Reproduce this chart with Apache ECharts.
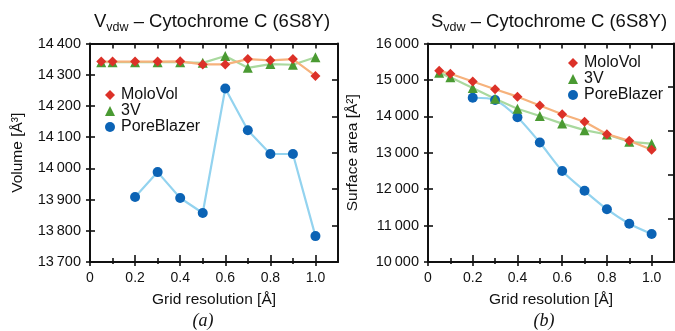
<!DOCTYPE html>
<html>
<head>
<meta charset="utf-8">
<script src="https://cdn.jsdelivr.net/npm/echarts@6/dist/echarts.min.js"></script>
<style>
  html, body { margin: 0; padding: 0; background: #fff; }
  #chart { width: 675px; height: 331px; }
</style>
</head>
<body>
<div id="chart"></div>
<script>
// grid resolution values (Å)
const xAll = [0.05, 0.1, 0.2, 0.3, 0.4, 0.5, 0.6, 0.7, 0.8, 0.9, 1.0];
const xPore = [0.2, 0.3, 0.4, 0.5, 0.6, 0.7, 0.8, 0.9, 1.0];

// (a) volume
const volMolo = [14342, 14342, 14342, 14342, 14343, 14333, 14333, 14350, 14346, 14350, 14296];
const vol3V = [14340, 14340, 14340, 14340, 14340, 14338, 14360, 14322, 14334, 14332, 14356];
const volPore = [13908, 13988, 13905, 13857, 14256, 14122, 14046, 14046, 13783];

// (b) surface area
const areaMolo = [15255, 15170, 14955, 14745, 14540, 14300, 14055, 13850, 13510, 13330, 13080];
const area3V = [15200, 15070, 14780, 14480, 14210, 14010, 13800, 13620, 13500, 13300, 13250];
const areaPore = [14510, 14450, 13975, 13280, 12500, 11955, 11450, 11050, 10770];

const xMajor = [0, 0.2, 0.4, 0.6, 0.8, 1.0];
const xMinor = [0.1, 0.3, 0.5, 0.7, 0.9];
const xTop = [0.1, 0.2, 0.3, 0.4, 0.5, 0.6, 0.7, 0.8, 0.9, 1.0];

const FONT = "Liberation Sans, Arial, sans-serif";
const black = { color: "#111", width: 2 };
const tickStyle = { color: "#111", width: 1.6 };

function pairs(xs, ys) {
  return xs.map((x, i) => [x, ys[i]]);
}

function thou(v) {
  const s = String(Math.round(v));
  return s.length > 4 ? s.slice(0, -3) + "\u2009" + s.slice(-3) : s;
}

function xAxes(g) {
  const base = {
    type: "value", gridIndex: g, min: 0, max: 1.1, interval: 0.1,
    splitLine: { show: false },
    axisLine: { show: false, onZero: false },
    axisLabel: { show: false },
    axisTick: { show: false }
  };
  return [
    {
      ...base, position: "bottom",
      axisLine: { show: true, onZero: false, lineStyle: black },
      axisTick: { show: true, length: 4, lineStyle: tickStyle, customValues: xMajor },
      axisLabel: {
        show: true, customValues: xMajor, margin: 9,
        fontFamily: FONT, fontSize: 14, color: "#111",
        formatter: v => (v === 0 ? "0" : v.toFixed(1))
      },
      name: "Grid resolution [Å]", nameLocation: "middle", nameGap: 30,
      nameTextStyle: { fontFamily: FONT, fontSize: 15.5, color: "#111" }
    },
    { ...base, position: "bottom", axisTick: { show: true, inside: true, length: 7, lineStyle: tickStyle, customValues: xMajor } },
    { ...base, position: "bottom", axisTick: { show: true, length: 2, lineStyle: tickStyle, customValues: xMinor } },
    { ...base, position: "bottom", axisTick: { show: true, inside: true, length: 4, lineStyle: tickStyle, customValues: xMinor } },
    {
      ...base, position: "top",
      axisLine: { show: true, onZero: false, lineStyle: black },
      axisTick: { show: true, inside: true, length: 5, lineStyle: tickStyle, customValues: xTop }
    }
  ];
}

function yAxes(g, min, max, step, name, nameGap, mirrorSplit) {
  const base = {
    type: "value", gridIndex: g, min: min, max: max, interval: step,
    splitLine: { show: false },
    axisLine: { show: false, onZero: false },
    axisLabel: { show: false },
    axisTick: { show: false }
  };
  return [
    {
      ...base, position: "left",
      axisLine: { show: true, onZero: false, lineStyle: black },
      axisTick: { show: true, length: 4, lineStyle: tickStyle },
      axisLabel: { show: true, margin: 9, fontFamily: FONT, fontSize: 14.5, color: "#111", formatter: thou },
      name: name, nameLocation: "middle", nameGap: nameGap,
      nameTextStyle: { fontFamily: FONT, fontSize: 15.5, color: "#111" }
    },
    { ...base, position: "left", axisTick: { show: true, inside: true, length: 5, lineStyle: tickStyle } },
    {
      ...base, position: "right", min: 0, max: mirrorSplit, interval: 1,
      axisLine: { show: true, onZero: false, lineStyle: black },
      axisTick: { show: true, inside: true, length: 6, lineStyle: tickStyle }
    }
  ];
}

function series(g, molo, v3, pore, smoothPore) {
  const xi = g * 5, yi = g * 3;
  return [
    {
      name: "PoreBlazer", type: "line", xAxisIndex: xi, yAxisIndex: yi,
      data: pairs(xPore, pore), smooth: smoothPore ? 0.25 : false,
      symbol: "circle", symbolSize: 10,
      itemStyle: { color: "#0b63b5" }, lineStyle: { color: "#93d3ef", width: 2.2 }
    },
    {
      name: "3V", type: "line", xAxisIndex: xi, yAxisIndex: yi,
      data: pairs(xAll, v3),
      symbol: "triangle", symbolSize: 10,
      itemStyle: { color: "#4a9a32" }, lineStyle: { color: "#a9d99e", width: 2.2 }
    },
    {
      name: "MoloVol", type: "line", xAxisIndex: xi, yAxisIndex: yi,
      data: pairs(xAll, molo),
      symbol: "diamond", symbolSize: 10,
      itemStyle: { color: "#dc3128" }, lineStyle: { color: "#f6b27c", width: 2.2 }
    }
  ];
}

function legend(left, top) {
  return {
    orient: "vertical", left: left, top: top, padding: 0,
    itemWidth: 10, itemHeight: 10, itemGap: 0,
    textStyle: { fontFamily: FONT, fontSize: 16, color: "#111", padding: [0, 0, 0, 1] },
    data: [
      { name: "MoloVol", icon: "diamond" },
      { name: "3V", icon: "triangle" },
      { name: "PoreBlazer", icon: "circle" }
    ]
  };
}

const titleRich = {
  a: { fontFamily: FONT, fontSize: 18.5, fontWeight: "normal", color: "#111", lineHeight: 24, verticalAlign: "middle" },
  s: { fontFamily: FONT, fontSize: 12.5, fontWeight: "normal", color: "#111", lineHeight: 12, verticalAlign: "bottom" }
};

const chart = echarts.init(document.getElementById("chart"));
chart.setOption({
  backgroundColor: "#fff",
  animation: false,
  title: [
    { text: "{a|V}{s|vdw}{a| – Cytochrome C (6S8Y)}", left: 212, top: 10, padding: 0, textAlign: "center", textStyle: { fontWeight: "normal", rich: titleRich } },
    { text: "{a|S}{s|vdw}{a| – Cytochrome C (6S8Y)}", left: 549, top: 10, padding: 0, textAlign: "center", textStyle: { fontWeight: "normal", rich: titleRich } },
    { text: "(a)", left: 203, top: 312, padding: 0, textAlign: "center", textStyle: { fontFamily: "Liberation Serif, serif", fontStyle: "italic", fontWeight: "normal", fontSize: 18, color: "#111" } },
    { text: "(b)", left: 544, top: 312, padding: 0, textAlign: "center", textStyle: { fontFamily: "Liberation Serif, serif", fontStyle: "italic", fontWeight: "normal", fontSize: 18, color: "#111" } }
  ],
  legend: [legend(105, 87), legend(568, 55)],
  grid: [
    { left: 90, top: 43.5, width: 248, height: 218.5 },
    { left: 428, top: 43.5, width: 246, height: 218.5 }
  ],
  xAxis: [...xAxes(0), ...xAxes(1)],
  yAxis: [
    ...yAxes(0, 13700, 14400, 100, "Volume [Å³]", 64, 6),
    ...yAxes(1, 10000, 16000, 1000, "Surface area [Å²]", 67, 5)
  ],
  series: [
    ...series(0, volMolo, vol3V, volPore, false),
    ...series(1, areaMolo, area3V, areaPore, true)
  ]
});
</script>
</body>
</html>
